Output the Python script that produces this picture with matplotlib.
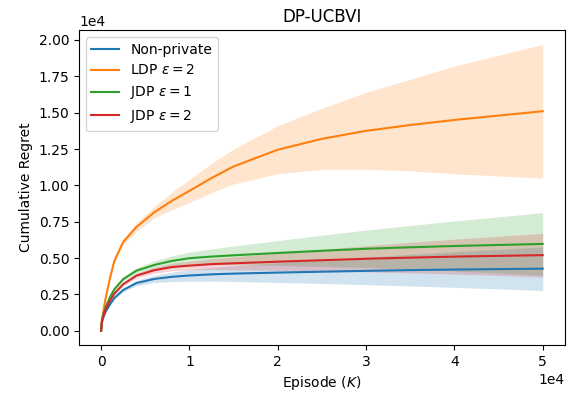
import matplotlib
matplotlib.use('Agg')
import matplotlib.pyplot as plt
import numpy as np

# episodes at which regret was recorded
episodes = [0, 100, 250, 500, 1000, 1500, 2500, 4000, 6000, 8000, 10000,
            12500, 15000, 20000, 25000, 30000, 35000, 40000, 45000, 50000]

# mean cumulative regret
nonprivate = [0, 580, 900, 1300, 1800, 2250, 2800, 3280, 3560, 3710, 3800,
              3880, 3930, 4000, 4060, 4120, 4170, 4210, 4240, 4270]
ldp_eps2 = [0, 700, 1300, 2200, 3600, 4800, 6100, 7130, 8140, 8930, 9620,
            10500, 11300, 12450, 13200, 13750, 14150, 14500, 14800, 15100]
jdp_eps1 = [0, 700, 1100, 1600, 2300, 2850, 3550, 4130, 4520, 4800, 4990,
            5100, 5190, 5350, 5500, 5640, 5740, 5830, 5900, 5970]
jdp_eps2 = [0, 650, 1000, 1450, 2050, 2550, 3200, 3790, 4160, 4380, 4480,
            4580, 4640, 4750, 4850, 4950, 5030, 5100, 5150, 5200]

# standard deviation across runs
nonprivate_std = [0, 15, 25, 40, 60, 80, 120, 180, 250, 330, 400,
                  470, 540, 680, 810, 950, 1090, 1225, 1360, 1500]
ldp_eps2_std = [0, 30, 50, 80, 130, 170, 230, 300, 400, 600, 800,
                1000, 1200, 1650, 2100, 2650, 3150, 3700, 4150, 4600]
jdp_eps1_std = [0, 20, 30, 50, 70, 90, 130, 200, 280, 350, 420,
                530, 640, 850, 1070, 1285, 1500, 1720, 1935, 2150]
jdp_eps2_std = [0, 15, 25, 40, 60, 80, 110, 160, 210, 260, 300,
                375, 450, 600, 750, 900, 1050, 1200, 1350, 1500]

labels = ['Non-private', r'LDP $\varepsilon = 2$', r'JDP $\varepsilon = 1$', r'JDP $\varepsilon = 2$']

fig = plt.figure(figsize=(5.74, 3.98), dpi=100)
ax = fig.add_axes([0.1376, 0.133, 0.8464, 0.7916])

x = np.array(episodes)
series = [(nonprivate, nonprivate_std), (ldp_eps2, ldp_eps2_std),
          (jdp_eps1, jdp_eps1_std), (jdp_eps2, jdp_eps2_std)]
for (mean, std), label in zip(series, labels):
    mean = np.array(mean, dtype=float)
    std = np.array(std, dtype=float)
    line, = ax.plot(x, mean, label=label)
    ax.fill_between(x, mean - std, mean + std, color=line.get_color(), alpha=0.2, lw=0)

ax.ticklabel_format(style='sci', axis='both', scilimits=(0, 0))
ax.set_title('DP-UCBVI')
ax.set_xlabel(r'Episode ($K$)')
ax.set_ylabel('Cumulative Regret')
ax.legend(loc='upper left')

fig.savefig('out.png', dpi=100)
